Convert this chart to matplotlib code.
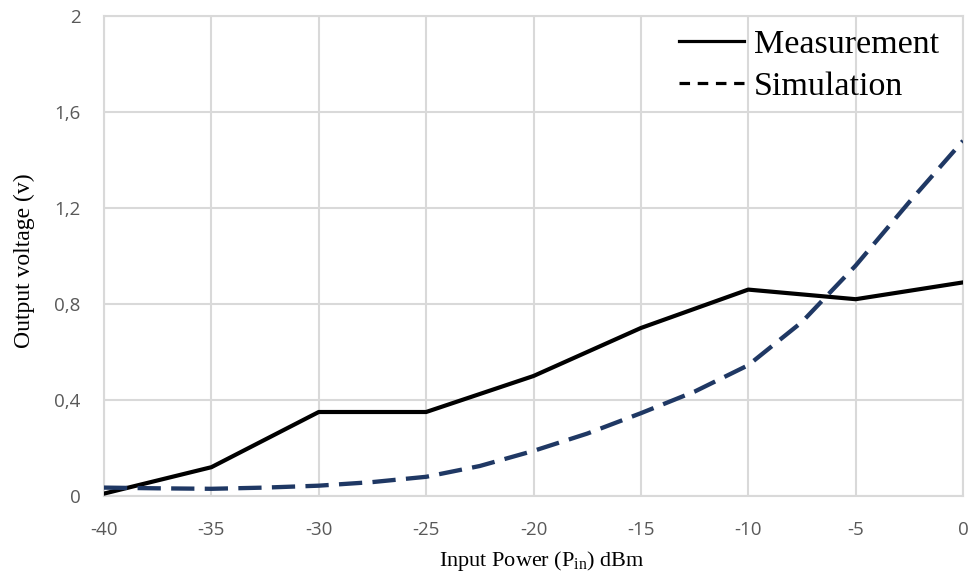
import matplotlib
matplotlib.use("Agg")
import matplotlib.pyplot as plt
from matplotlib.lines import Line2D

plt.rcParams['axes.unicode_minus'] = False
plt.rcParams['mathtext.fontset'] = 'custom'
plt.rcParams['mathtext.rm'] = 'Liberation Serif'

# Data
meas_x = [-40, -35, -30, -25, -20, -15, -10, -5, 0]
meas_y = [0.01, 0.12, 0.35, 0.35, 0.50, 0.70, 0.86, 0.82, 0.89]

sim_x = [-40, -37.5, -35, -32.5, -30, -27.5, -25, -22.5, -20, -17.5, -15,
         -12.5, -10, -7.5, -5, -2.5, 0]
sim_y = [0.035, 0.032, 0.030, 0.035, 0.043, 0.058, 0.080, 0.125, 0.188, 0.26,
         0.345, 0.435, 0.545, 0.725, 0.96, 1.225, 1.48]

x_ticks = [-40, -35, -30, -25, -20, -15, -10, -5, 0]
x_tick_labels = ["-40", "-35", "-30", "-25", "-20", "-15", "-10", "-5", "0"]
y_ticks = [0, 0.4, 0.8, 1.2, 1.6, 2.0]
y_tick_labels = ["0", "0,4", "0,8", "1,2", "1,6", "2"]

fig = plt.figure(figsize=(9.74, 5.8), dpi=100)
ax = fig.add_axes([104/974, 1-496/580, (963-104)/974, (496-16)/580])

ax.plot(meas_x, meas_y, color='black', lw=3, solid_joinstyle='round', zorder=3)
ax.plot(sim_x, sim_y, color='#1F3864', lw=3.1, dashes=(5.4, 2.4), zorder=3)

ax.set_xlim(-40, 0)
ax.set_ylim(0, 2)
ax.set_xticks(x_ticks)
ax.set_xticklabels(x_tick_labels)
ax.set_yticks(y_ticks)
ax.set_yticklabels(y_tick_labels)

for s in ax.spines.values():
    s.set_visible(False)
ax.grid(True, color='#d9d9d9', lw=1.5)
ax.set_axisbelow(True)
# border grid lines at edges
ax.axhline(0, color='#d9d9d9', lw=1.5, zorder=1, clip_on=False)
ax.axvline(-40, color='#d9d9d9', lw=1.5, zorder=1, clip_on=False)
ax.axvline(0, color='#d9d9d9', lw=1.5, zorder=1, clip_on=False)
ax.axhline(2, color='#d9d9d9', lw=1.5, zorder=1, clip_on=False)

ax.tick_params(length=0, labelcolor='#595959', labelsize=13.5)
ax.tick_params(axis='y', pad=17)
ax.tick_params(axis='x', pad=18)
for lab in ax.get_xticklabels() + ax.get_yticklabels():
    lab.set_fontfamily('Open Sans')

ax.set_xlabel(r'Input Power (P$_{\mathrm{in}}$) dBm', family='Liberation Serif', fontsize=16)
ax.set_ylabel('Output voltage (v)', family='Liberation Serif', fontsize=17)
ax.xaxis.set_label_coords(0.51, -0.11)
ax.yaxis.set_label_coords(-0.08, 0.49)

handles = [Line2D([], [], color='black', lw=2.3),
           Line2D([], [], color='black', lw=2.3, dashes=(3.3, 2.4))]
leg = ax.legend(handles, ['Measurement', 'Simulation'], loc='upper right',
                bbox_to_anchor=(0.998, 1.018), frameon=False,
                prop={'family': 'Liberation Serif', 'size': 24.5},
                handlelength=1.9, handletextpad=0.3, labelspacing=0.33,
                borderaxespad=0.25)

fig.savefig('out.png', dpi=100)
